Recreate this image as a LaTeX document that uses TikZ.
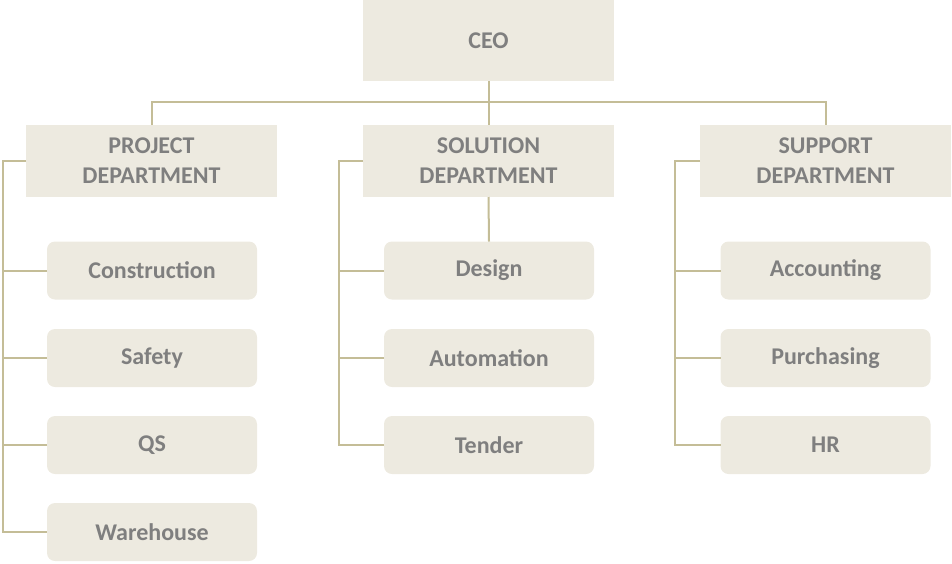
\documentclass[tikz,border=0pt]{standalone}
\usepackage{fontspec}
\setmainfont{Carlito}
\definecolor{boxfill}{RGB}{237,234,224}
\definecolor{linec}{RGB}{196,189,151}
\definecolor{txt}{RGB}{127,127,127}
\begin{document}
\begin{tikzpicture}[x=1pt,y=-1pt,
  every node/.style={inner sep=0pt,outer sep=0pt},
  headbox/.style={fill=boxfill,minimum width=251pt,minimum height=72pt,align=center,
    font=\fontsize{24}{30}\selectfont\bfseries,text=txt},
  ceobox/.style={headbox,minimum height=81pt},
  childbox/.style={fill=boxfill,rounded corners=8pt,minimum width=210pt,minimum height=58pt,
    font=\fontsize{24}{28}\selectfont\bfseries,text=txt},
  conn/.style={draw=linec,line width=2pt}]
\useasboundingbox (0,0) rectangle (952,563);
\node[ceobox] (ceo) at (488.5,40.5) {CEO};
\node[headbox] (pd) at (151.5,161) {PROJECT\\DEPARTMENT};
\node[headbox] (sd) at (488.5,161) {SOLUTION\\DEPARTMENT};
\node[headbox] (su) at (825.5,161) {SUPPORT\\DEPARTMENT};
% project children
\node[childbox] (c1) at (152,270.5) {Construction};
\node[childbox] (c2) at (152,358) {Safety};
\node[childbox] (c3) at (152,445) {QS};
\node[childbox] (c4) at (152,532) {Warehouse};
% solution children
\node[childbox] (s1) at (489,270.5) {Design};
\node[childbox] (s2) at (489,358) {Automation};
\node[childbox] (s3) at (489,445) {Tender};
% support children
\node[childbox] (u1) at (825.5,270.5) {Accounting};
\node[childbox] (u2) at (825.5,358) {Purchasing};
\node[childbox] (u3) at (825.5,445) {HR};
% top connectors
\draw[conn] (ceo.south) -- ++(0,21) coordinate (bar);
\draw[conn] (pd.north) |- (bar) -| (su.north);
\draw[conn] (bar) -- (sd.north);
\draw[conn] (sd.south) -- (s1.north);
% project spine
\coordinate (pspine) at (3,0);
\draw[conn] (pd.west) -- (pd.west -| pspine) |- (c4.west);
\foreach \n in {c1,c2,c3} \draw[conn] (\n.west) -- (\n.west -| pspine);
% solution spine
\coordinate (sspine) at (339,0);
\draw[conn] (sd.west) -- (sd.west -| sspine) |- (s3.west);
\foreach \n in {s1,s2} \draw[conn] (\n.west) -- (\n.west -| sspine);
% support spine
\coordinate (uspine) at (675,0);
\draw[conn] (su.west) -- (su.west -| uspine) |- (u3.west);
\foreach \n in {u1,u2} \draw[conn] (\n.west) -- (\n.west -| uspine);
\end{tikzpicture}
\end{document}
